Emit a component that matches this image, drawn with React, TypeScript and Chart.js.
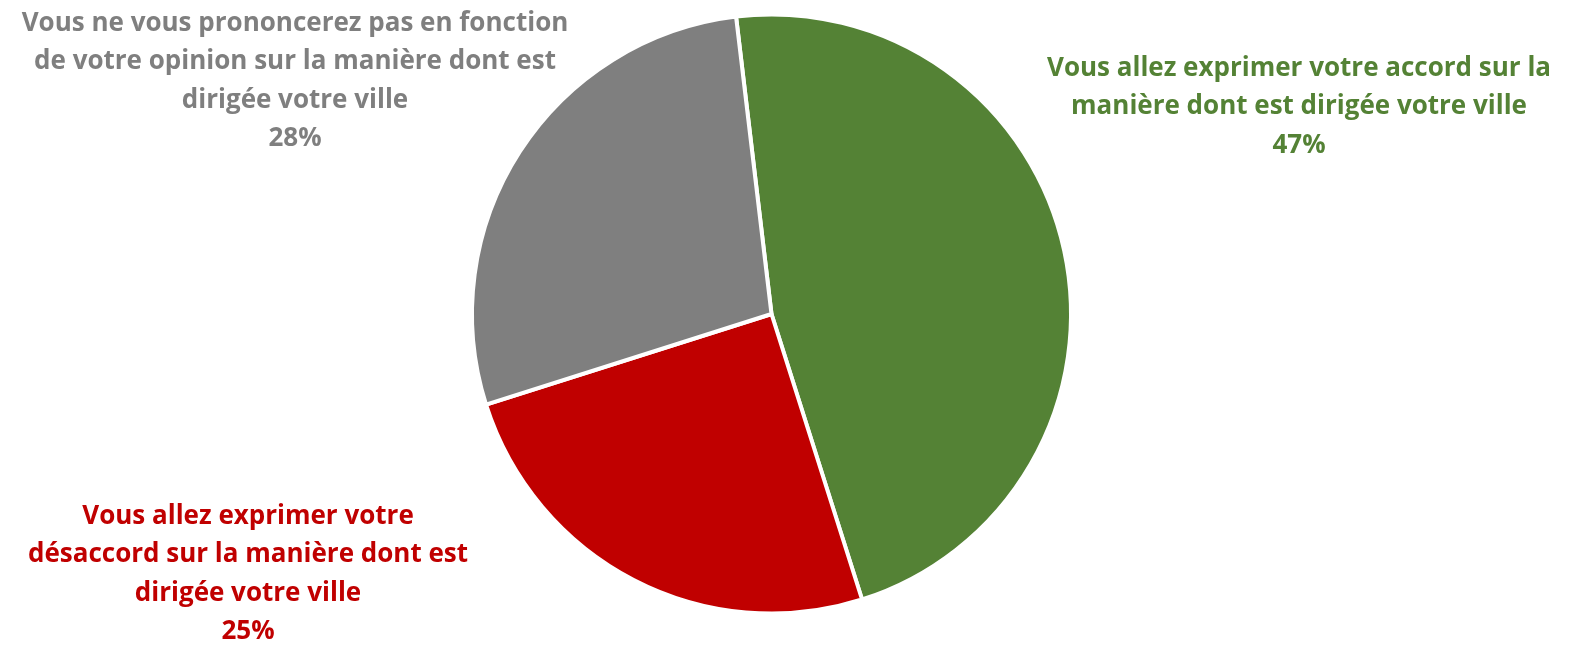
import React, { useEffect, useRef } from "react";
import { Chart, registerables } from "chart.js";

Chart.register(...registerables);

// ---- Data ----
const categories = [
  "Vous allez exprimer votre accord sur la manière dont est dirigée votre ville",
  "Vous allez exprimer votre désaccord sur la manière dont est dirigée votre ville",
  "Vous ne vous prononcerez pas en fonction de votre opinion sur la manière dont est dirigée votre ville",
];
const labelLines = [
  ["Vous allez exprimer votre accord sur la", "manière dont est dirigée votre ville"],
  ["Vous allez exprimer votre", "désaccord sur la manière dont est", "dirigée votre ville"],
  ["Vous ne vous prononcerez pas en fonction", "de votre opinion sur la manière dont est", "dirigée votre ville"],
];
const values = [47, 25, 28];
const colors = ["#548235", "#C00000", "#7F7F7F"];

// label block placement relative to pie centre (first baseline)
const labelOffsets: [number, number][] = [
  [527.5, -238],
  [-523.5, 210],
  [-476.5, -283],
];

const labelPlugin = {
  id: "sliceLabels",
  afterDatasetsDraw(chart: any, _args: any, opts: any) {
    const meta = chart.getDatasetMeta(0);
    const ctx = chart.ctx as CanvasRenderingContext2D;
    ctx.save();
    ctx.font = `bold ${opts.fontSize}px ${opts.family}`;
    ctx.textAlign = "center";
    ctx.textBaseline = "alphabetic";
    meta.data.forEach((arc: any, i: number) => {
      const { x, y } = arc.getProps(["x", "y"], true);
      const [dx, dy] = opts.offsets[i];
      const lines = [...labelLines[i], `${values[i]}%`];
      ctx.fillStyle = colors[i];
      lines.forEach((ln, j) => ctx.fillText(ln, x + dx, y + dy + j * opts.lineHeight));
    });
    ctx.restore();
  },
};

export default function App() {
  const ref = useRef<HTMLCanvasElement>(null);
  useEffect(() => {
    if (!ref.current) return;
    const chart = new Chart(ref.current, {
      type: "pie",
      data: {
        labels: categories,
        datasets: [
          {
            data: values,
            backgroundColor: colors,
            borderColor: "#FFFFFF",
            borderWidth: 4,
          },
        ],
      },
      options: {
        responsive: false,
        animation: false,
        rotation: -6.8,
        radius: 299.5,
        layout: { padding: { top: 0, bottom: 17, left: 0, right: 26 } },
        plugins: {
          legend: { display: false },
          tooltip: { enabled: false },
          sliceLabels: {
            offsets: labelOffsets,
            fontSize: 26,
            family: "'Open Sans', Lato, sans-serif",
            lineHeight: 38.3,
          },
        } as any,
      },
      plugins: [labelPlugin],
    });
    return () => chart.destroy();
  }, []);
  return (
    <div style={{ position: "absolute", left: 0, top: 0, width: 1569, height: 645, background: "#fff" }}>
      <canvas ref={ref} width={1569} height={645} style={{ display: "block" }} />
    </div>
  );
}
